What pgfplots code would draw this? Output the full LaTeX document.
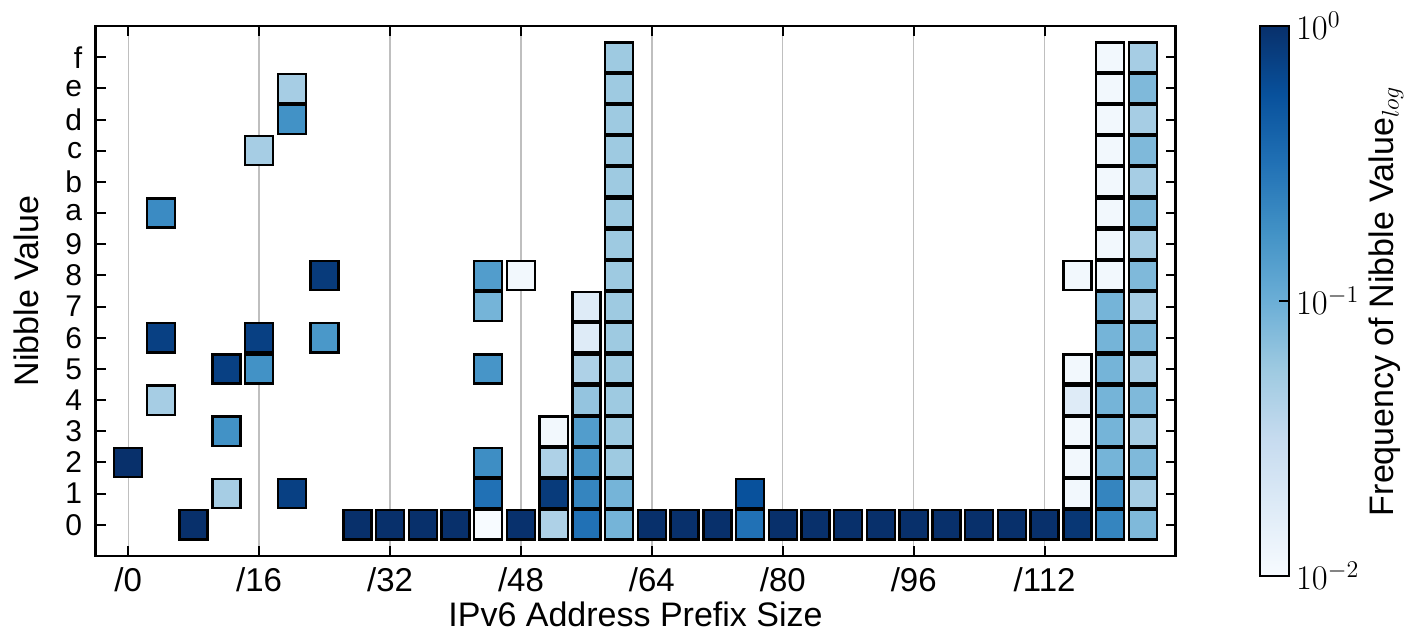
\documentclass[border=0pt]{standalone}
\usepackage{fontspec}
\setmainfont{Liberation Sans}
\usepackage{pgfplots}
\pgfplotsset{compat=1.18}
\usepackage{pgfplotstable}

\pgfplotstableread{
x y c
0 2 0
4 10 -0.7
4 6 -0.12
4 4 -1.3
8 0 0
12 5 -0.12
12 3 -0.75
12 1 -1.3
16 12 -1.3
16 6 -0.12
16 5 -0.75
20 14 -1.3
20 13 -0.75
20 1 -0.12
24 8 -0.08
24 6 -0.8
28 0 0
32 0 0
36 0 0
40 0 0
44 8 -0.85
44 7 -1.05
44 5 -0.78
44 2 -0.72
44 1 -0.5
44 0 -2
48 8 -1.95
48 0 -0.01
52 3 -1.95
52 2 -1.35
52 1 -0.08
52 0 -1.35
56 7 -1.75
56 6 -1.75
56 5 -1.35
56 4 -1.2
56 3 -0.85
56 2 -0.78
56 1 -0.65
56 0 -0.5
60 0 -1.05
60 1 -1.05
60 2 -1.25
60 3 -1.25
60 4 -1.25
60 5 -1.25
60 6 -1.25
60 7 -1.25
60 8 -1.25
60 9 -1.25
60 10 -1.25
60 11 -1.25
60 12 -1.25
60 13 -1.25
60 14 -1.25
60 15 -1.25
64 0 0
68 0 0
72 0 0
76 1 -0.25
76 0 -0.5
80 0 0
84 0 0
88 0 0
92 0 0
96 0 0
100 0 0
104 0 0
108 0 0
112 0 0
116 0 -0.05
116 1 -1.95
116 2 -1.95
116 3 -1.95
116 4 -1.75
116 5 -1.95
116 8 -1.95
120 0 -0.65
120 1 -0.65
120 2 -1.05
120 3 -1.05
120 4 -1.05
120 5 -1.05
120 6 -1.05
120 7 -1.05
120 8 -1.95
120 9 -1.95
120 10 -1.95
120 11 -1.95
120 12 -1.95
120 13 -1.95
120 14 -1.95
120 15 -1.95
124 0 -1.1
124 1 -1.3
124 2 -1.1
124 3 -1.3
124 4 -1.1
124 5 -1.3
124 6 -1.1
124 7 -1.3
124 8 -1.1
124 9 -1.3
124 10 -1.1
124 11 -1.3
124 12 -1.1
124 13 -1.3
124 14 -1.1
124 15 -1.3
}\nibbles

\begin{document}
\begin{tikzpicture}[font=\fontsize{17}{19}\selectfont]
\path[use as bounding box] (0,0) rectangle (704pt,315pt);
\begin{axis}[
  at={(47.75pt,37pt)}, anchor=south west,
  scale only axis, width=540pt, height=265pt,
  xmin=-4, xmax=128, ymin=-1, ymax=16,
  axis on top,
  axis line style={line width=1.2pt},
  xtick={0,16,...,112},
  xticklabels={/0,/16,/32,/48,/64,/80,/96,/112},
  ytick={0,...,15},
  yticklabels={0,1,2,3,4,5,6,7,8,9,a,b,c,d,e,f},
  xmajorgrids,
  major grid style={line width=0.7pt, black!25},
  major tick length=5pt,
  tick style={line width=1pt, black},
  xticklabel style={anchor=base, yshift=-18pt, inner sep=0pt, font=\fontsize{16.5}{16.5}\selectfont},
  yticklabel style={inner ysep=0pt, inner xsep=0pt, xshift=-6.5pt, font=\fontsize{15}{15}\selectfont},
  xlabel={IPv6 Address Prefix Size},
  ylabel={Nibble Value},
  xlabel style={at={(axis description cs:0.5,-0.1330)}, anchor=base, inner sep=0pt},
  ylabel style={at={(axis description cs:-0.0532,0.5)}, anchor=base, inner sep=0pt},
  colormap={blues}{rgb255=(247,251,255) rgb255=(222,235,247) rgb255=(198,219,239) rgb255=(158,202,225) rgb255=(107,174,214) rgb255=(66,146,198) rgb255=(33,113,181) rgb255=(8,81,156) rgb255=(8,48,107)},
  point meta min=-2, point meta max=0,
  colorbar,
  colorbar style={
    at={(parent axis.north east)}, anchor=north west, xshift=33.75pt,
    width=14.5pt, height=275pt,
    ytick={-2,-1,0},
    yticklabels={$10^{-2}$,$10^{-1}$,$10^{0}$},
    ytick pos=right,
    axis line style={line width=1pt},
    major tick length=5pt,
    ylabel={Frequency of Nibble Value$_{log}$},
    ylabel style={at={(axis description cs:4.6,0.5)}, anchor=base, inner sep=0pt},
  },
]
\addplot[scatter, only marks, mark=square*, mark size=7.3pt,
  point meta=explicit,
  mark options={line width=1.2pt, xscale=0.96},
  scatter/use mapped color={draw=black, fill=mapped color}]
  table[x=x, y=y, meta=c] {\nibbles};
\end{axis}
\end{tikzpicture}
\end{document}
